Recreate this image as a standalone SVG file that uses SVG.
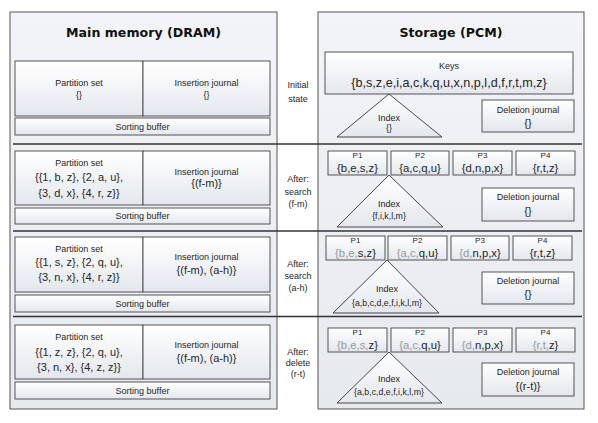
<svg xmlns="http://www.w3.org/2000/svg" width="598" height="423" viewBox="0 0 598 423">
<defs>
<linearGradient id="gPanel" x1="0" y1="0" x2="0" y2="1">
<stop offset="0" stop-color="#f2f4f7"/><stop offset="1" stop-color="#e6e9ee"/>
</linearGradient>
<linearGradient id="gBox" x1="0" y1="0" x2="0" y2="1">
<stop offset="0" stop-color="#ffffff"/><stop offset="1" stop-color="#e3e7ed"/>
</linearGradient>
<style>
.panel{fill:url(#gPanel);stroke:#555;stroke-width:1}
.box{fill:url(#gBox);stroke:#444;stroke-width:0.9}
.tri{fill:url(#gBox);stroke:#333;stroke-width:0.9}
.sep{stroke:#333;stroke-width:1.4}
text{font-family:"Liberation Sans",Arial,sans-serif;fill:#262626;text-anchor:middle}
.title{font-family:"DejaVu Sans",Verdana,sans-serif;font-weight:bold;font-size:12.6px;fill:#111}
.lbl{font-size:9px}
.sm{font-size:8px}
.big{font-size:11px}
.keys{font-size:12.6px}
.ps{font-size:11.3px}
.ix{font-size:8.8px}
.g{fill:#9a9a9a}
</style>
</defs>
<rect width="598" height="423" fill="#ffffff"/>

<g id="dram-panel">
<rect class="panel" x="10" y="12" width="267" height="397"/>
<text class="title" x="143.5" y="37">Main memory (DRAM)</text>
</g>
<g id="pcm-panel">
<rect class="panel" x="318" y="12" width="266" height="397"/>
<text class="title" x="451" y="37">Storage (PCM)</text>
</g>

<g id="state-labels">
<text class="lbl" x="298" y="88">Initial</text>
<text class="lbl" x="298" y="102">state</text>
<text class="lbl" x="298" y="182">After:</text>
<text class="lbl" x="298" y="195">search</text>
<text class="lbl" x="298" y="207">(f-m)</text>
<text class="lbl" x="298" y="267">After:</text>
<text class="lbl" x="298" y="279">search</text>
<text class="lbl" x="298" y="291">(a-h)</text>
<text class="lbl" x="298" y="355">After:</text>
<text class="lbl" x="298" y="366">delete</text>
<text class="lbl" x="298" y="377">(r-t)</text>
</g>

<!-- Row 1 DRAM -->
<g id="r1-partition-set">
<rect class="box" x="15" y="61" width="128" height="55"/>
<text class="lbl" x="79" y="86">Partition set</text>
<text class="lbl" x="79" y="98">{}</text>
</g>
<g id="r1-insertion-journal">
<rect class="box" x="143" y="61" width="127" height="55"/>
<text class="lbl" x="206.5" y="86">Insertion journal</text>
<text class="lbl" x="206.5" y="98">{}</text>
</g>
<g id="r1-sorting-buffer">
<rect class="box" x="15" y="118" width="255" height="17"/>
<text class="lbl" x="142.5" y="130">Sorting buffer</text>
</g>

<!-- Row 1 PCM -->
<g id="r1-keys">
<rect class="box" x="325" y="52" width="248" height="42"/>
<text class="lbl" x="449" y="69">Keys</text>
<text class="keys" x="449" y="87">{b,s,z,e,i,a,c,k,q,u,x,n,p,l,d,f,r,t,m,z}</text>
</g>
<g id="r1-index">
<polygon class="tri" points="389,94 337,137 442,137"/>
<text class="lbl" x="389" y="121">Index</text>
<text class="lbl" x="389" y="131">{}</text>
</g>
<g id="r1-deletion-journal">
<rect class="box" x="482" y="100" width="92" height="32"/>
<text class="lbl" x="528" y="113">Deletion journal</text>
<text class="big" x="528" y="127">{}</text>
</g>

<!-- Row 2 DRAM -->
<g id="r2-partition-set">
<rect class="box" x="15" y="151" width="128" height="54"/>
<text class="lbl" x="79" y="166">Partition set</text>
<text class="big" x="79" y="181">{{1, b, z}, {2, a, u},</text>
<text class="big" x="79" y="197">{3, d, x}, {4, r, z}}</text>
</g>
<g id="r2-insertion-journal">
<rect class="box" x="143" y="151" width="127" height="54"/>
<text class="lbl" x="206.5" y="175">Insertion journal</text>
<text class="big" x="206.5" y="187">{(f-m)}</text>
</g>
<g id="r2-sorting-buffer">
<rect class="box" x="15" y="208" width="255" height="16"/>
<text class="lbl" x="142.5" y="219">Sorting buffer</text>
</g>

<!-- Row 2 PCM -->
<g id="r2-p1"><rect class="box" x="328" y="151" width="59" height="24"/><text class="sm" x="357.5" y="158">P1</text><text class="ps" x="357.5" y="172">{b,e,s,z}</text></g>
<g id="r2-p2"><rect class="box" x="391" y="151" width="58" height="24"/><text class="sm" x="420" y="158">P2</text><text class="ps" x="420" y="172">{a,c,q,u}</text></g>
<g id="r2-p3"><rect class="box" x="453" y="151" width="59" height="24"/><text class="sm" x="482.5" y="158">P3</text><text class="ps" x="482.5" y="172">{d,n,p,x}</text></g>
<g id="r2-p4"><rect class="box" x="516" y="151" width="59" height="24"/><text class="sm" x="545.5" y="158">P4</text><text class="ps" x="545.5" y="172">{r,t,z}</text></g>
<g id="r2-index">
<polygon class="tri" points="389,175 337,227 443,227"/>
<text class="lbl" x="389" y="207">Index</text>
<text class="ix" x="389" y="219">{f,i,k,l,m}</text>
</g>
<g id="r2-deletion-journal">
<rect class="box" x="482" y="188" width="92" height="33"/>
<text class="lbl" x="528" y="200">Deletion journal</text>
<text class="big" x="528" y="215">{}</text>
</g>

<!-- Row 3 DRAM -->
<g id="r3-partition-set">
<rect class="box" x="15" y="237" width="128" height="55"/>
<text class="lbl" x="79" y="252">Partition set</text>
<text class="big" x="79" y="266">{{1, s, z}, {2, q, u},</text>
<text class="big" x="79" y="281">{3, n, x}, {4, r, z}}</text>
</g>
<g id="r3-insertion-journal">
<rect class="box" x="143" y="237" width="127" height="55"/>
<text class="lbl" x="206.5" y="260">Insertion journal</text>
<text class="big" x="206.5" y="274">{(f-m), (a-h)}</text>
</g>
<g id="r3-sorting-buffer">
<rect class="box" x="15" y="295" width="255" height="17"/>
<text class="lbl" x="142.5" y="306.5">Sorting buffer</text>
</g>

<!-- Row 3 PCM -->
<g id="r3-p1"><rect class="box" x="326" y="236" width="59" height="24"/><text class="sm" x="355.5" y="243">P1</text><text class="ps" x="355.5" y="257"><tspan class="g">{b,e,</tspan>s,z}</text></g>
<g id="r3-p2"><rect class="box" x="388" y="236" width="59" height="24"/><text class="sm" x="417.5" y="243">P2</text><text class="ps" x="417.5" y="257"><tspan class="g">{a,c,</tspan>q,u}</text></g>
<g id="r3-p3"><rect class="box" x="451" y="236" width="58" height="24"/><text class="sm" x="480" y="243">P3</text><text class="ps" x="480" y="257"><tspan class="g">{d,</tspan>n,p,x}</text></g>
<g id="r3-p4"><rect class="box" x="513" y="236" width="59" height="24"/><text class="sm" x="542.5" y="243">P4</text><text class="ps" x="542.5" y="257">{r,t,z}</text></g>
<g id="r3-index">
<polygon class="tri" points="387,260 333,313 439,313"/>
<text class="lbl" x="387" y="292">Index</text>
<text class="ix" x="387" y="306">{a,b,c,d,e,f,i,k,l,m}</text>
</g>
<g id="r3-deletion-journal">
<rect class="box" x="482" y="272" width="92" height="32"/>
<text class="lbl" x="528" y="284">Deletion journal</text>
<text class="big" x="528" y="298">{}</text>
</g>

<!-- Row 4 DRAM -->
<g id="r4-partition-set">
<rect class="box" x="15" y="325" width="128" height="54"/>
<text class="lbl" x="79" y="340">Partition set</text>
<text class="big" x="79" y="356">{{1, z, z}, {2, q, u},</text>
<text class="big" x="79" y="371">{3, n, x}, {4, z, z}}</text>
</g>
<g id="r4-insertion-journal">
<rect class="box" x="143" y="325" width="127" height="54"/>
<text class="lbl" x="206.5" y="348">Insertion journal</text>
<text class="big" x="206.5" y="362">{(f-m), (a-h)}</text>
</g>
<g id="r4-sorting-buffer">
<rect class="box" x="15" y="382" width="255" height="17"/>
<text class="lbl" x="142.5" y="393.5">Sorting buffer</text>
</g>

<!-- Row 4 PCM -->
<g id="r4-p1"><rect class="box" x="328" y="328" width="59" height="24"/><text class="sm" x="357.5" y="335">P1</text><text class="ps" x="357.5" y="349"><tspan class="g">{b,e,s,</tspan>z}</text></g>
<g id="r4-p2"><rect class="box" x="391" y="328" width="58" height="24"/><text class="sm" x="420" y="335">P2</text><text class="ps" x="420" y="349"><tspan class="g">{a,c,</tspan>q,u}</text></g>
<g id="r4-p3"><rect class="box" x="453" y="328" width="59" height="24"/><text class="sm" x="482.5" y="335">P3</text><text class="ps" x="482.5" y="349"><tspan class="g">{d,</tspan>n,p,x}</text></g>
<g id="r4-p4"><rect class="box" x="516" y="328" width="59" height="24"/><text class="sm" x="545.5" y="335">P4</text><text class="ps" x="545.5" y="349"><tspan class="g">{r,t,</tspan>z}</text></g>
<g id="r4-index">
<polygon class="tri" points="389,352 337,403 442,403"/>
<text class="lbl" x="389" y="382">Index</text>
<text class="ix" x="389" y="395">{a,b,c,d,e,f,i,k,l,m}</text>
</g>
<g id="r4-deletion-journal">
<rect class="box" x="482" y="363" width="92" height="33"/>
<text class="lbl" x="528" y="375">Deletion journal</text>
<text class="big" x="528" y="390">{(r-t)}</text>
</g>

<g id="connectors">
<line class="sep" x1="13" y1="144" x2="582" y2="144"/>
<line class="sep" x1="13" y1="231" x2="582" y2="231"/>
<line class="sep" x1="13" y1="316.5" x2="582" y2="316.5"/>
</g>
</svg>
